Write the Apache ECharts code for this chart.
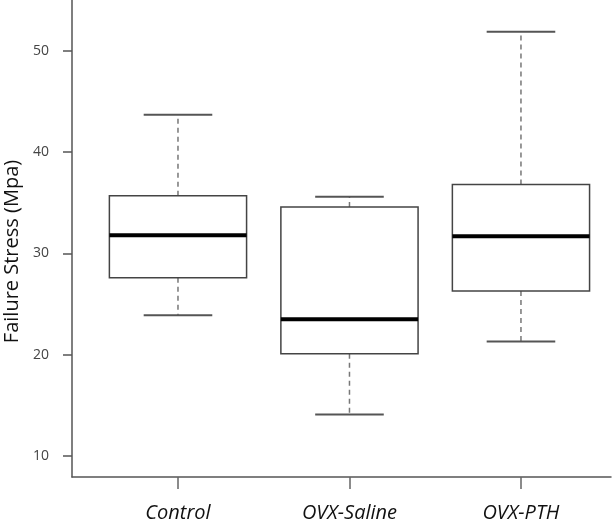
<!DOCTYPE html>
<html>
<head>
<meta charset="utf-8">
<script src="https://cdn.jsdelivr.net/npm/echarts@6/dist/echarts.min.js"></script>
<style>html,body{margin:0;padding:0;background:#fff;}#c{width:616px;height:521px;}</style>
</head>
<body>
<div id="c"></div>
<script>
var categories = ['Control', 'OVX-Saline', 'OVX-PTH'];
var lowerWhisker = [23.9, 14.1, 21.3];
var q1 = [27.6, 20.1, 26.3];
var median = [31.8, 23.5, 31.7];
var q3 = [35.7, 34.6, 36.8];
var upperWhisker = [43.7, 35.6, 51.9];
var yTicks = [10, 20, 30, 40, 50];
var xPositions = [1, 2, 3];

var data = categories.map(function (c, i) {
  return [xPositions[i], lowerWhisker[i], q1[i], median[i], q3[i], upperWhisker[i]];
});

var chart = echarts.init(document.getElementById('c'), null, {renderer: 'canvas'});
var fontFam = '"Open Sans", "Liberation Sans", sans-serif';

function renderItem(params, api) {
  var x = api.value(0);
  var lw = api.value(1), b1 = api.value(2), md = api.value(3), b3 = api.value(4), uw = api.value(5);
  var halfBox = 0.4, halfCap = 0.2;
  var pL = api.coord([x - halfBox, b3]);
  var pR = api.coord([x + halfBox, b1]);
  var cL = api.coord([x - halfCap, 0])[0];
  var cR = api.coord([x + halfCap, 0])[0];
  var cx = api.coord([x, 0])[0];
  var yLw = api.coord([x, lw])[1];
  var yB1 = api.coord([x, b1])[1];
  var yMd = api.coord([x, md])[1];
  var yB3 = api.coord([x, b3])[1];
  var yUw = api.coord([x, uw])[1];
  var dashStyle = {stroke: '#777', lineWidth: 1.5, lineDash: [5, 4]};
  var capStyle = {stroke: '#555', lineWidth: 2};
  return {
    type: 'group',
    children: [
      {type: 'line', shape: {x1: cx, y1: yB3, x2: cx, y2: yUw}, style: dashStyle},
      {type: 'line', shape: {x1: cx, y1: yB1, x2: cx, y2: yLw}, style: dashStyle},
      {type: 'line', shape: {x1: cL, y1: yUw, x2: cR, y2: yUw}, style: capStyle},
      {type: 'line', shape: {x1: cL, y1: yLw, x2: cR, y2: yLw}, style: capStyle},
      {type: 'rect', shape: {x: pL[0], y: yB3, width: pR[0] - pL[0], height: yB1 - yB3},
        style: {fill: '#fff', stroke: '#444', lineWidth: 1.5}},
      {type: 'line', shape: {x1: pL[0], y1: yMd, x2: pR[0], y2: yMd}, style: {stroke: '#000', lineWidth: 4}}
    ]
  };
}

chart.setOption({
  animation: false,
  backgroundColor: '#fff',
  grid: {left: 72, right: 5, top: 0, bottom: 44, containLabel: false, outerBoundsMode: 'none'},
  xAxis: {
    type: 'value',
    min: 0.382,
    max: 3.525,
    splitLine: {show: false},
    axisLine: {show: true, lineStyle: {color: '#555', width: 1.5}},
    axisTick: {show: true, customValues: xPositions, length: 12, lineStyle: {color: '#666', width: 1.5}},
    axisLabel: {
      customValues: xPositions,
      margin: 26,
      fontSize: 20,
      fontStyle: 'italic',
      color: '#111',
      fontFamily: fontFam,
      formatter: function (v) {
        var i = xPositions.indexOf(Math.round(v));
        return i >= 0 ? categories[i] : '';
      }
    }
  },
  yAxis: {
    type: 'value',
    min: 7.93,
    max: 55.03,
    name: 'Failure Stress (Mpa)',
    nameLocation: 'middle',
    nameGap: 50,
    nameTextStyle: {fontSize: 20, color: '#111', fontFamily: fontFam, padding: [0, 26, 0, 0]},
    splitLine: {show: false},
    axisLine: {show: true, lineStyle: {color: '#555', width: 1.5}},
    axisTick: {show: true, customValues: yTicks, length: 9, lineStyle: {color: '#555', width: 1.5}},
    axisLabel: {customValues: yTicks, margin: 23, fontSize: 14, color: '#444', fontFamily: fontFam}
  },
  series: [{
    type: 'custom',
    renderItem: renderItem,
    encode: {x: 0, y: [1, 2, 3, 4, 5]},
    data: data
  }]
});
</script>
</body>
</html>
